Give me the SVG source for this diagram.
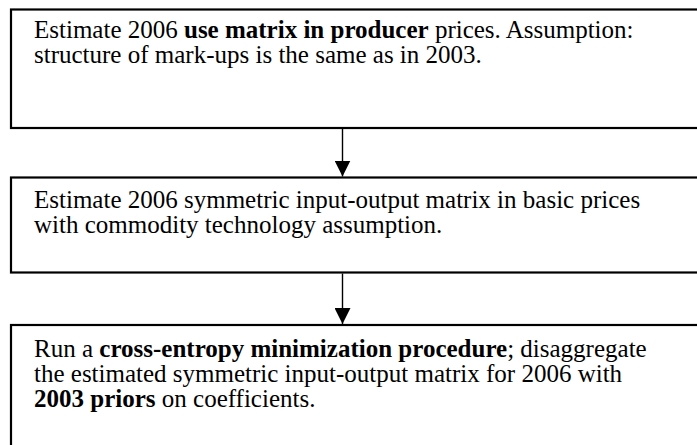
<svg xmlns="http://www.w3.org/2000/svg" width="697" height="445" viewBox="0 0 697 445">
<defs>
<style>
.box{fill:#fff;stroke:#000;stroke-width:2.2}
.t{font-family:'Liberation Serif','Times New Roman',serif;font-size:25px;fill:#000}
.b{font-weight:bold}
.c{stroke:#000;stroke-width:1.4;fill:none}
</style>
<marker id="ah" markerWidth="16" markerHeight="16" refX="16" refY="8" orient="auto" markerUnits="userSpaceOnUse">
<path d="M0,0 L16,8 L0,16 Z" fill="#000"/>
</marker>
</defs>
<rect width="697" height="445" fill="#fff"/>
<g id="node1">
<rect class="box" x="11" y="9.5" width="720" height="118.5"/>
<text class="t" x="34" y="38">Estimate 2006 <tspan class="b">use matrix in producer</tspan> prices. Assumption:</text>
<text class="t" x="34" y="63">structure of mark-ups is the same as in 2003.</text>
</g>
<g id="node2">
<rect class="box" x="11" y="177.5" width="720" height="95"/>
<text class="t" x="34" y="208">Estimate 2006 symmetric input-output matrix in basic prices</text>
<text class="t" x="34" y="233">with commodity technology assumption.</text>
</g>
<g id="node3">
<rect class="box" x="11" y="325" width="720" height="140"/>
<text class="t" x="34" y="357">Run a <tspan class="b">cross-entropy minimization procedure</tspan>; disaggregate</text>
<text class="t" x="34" y="382">the estimated symmetric input-output matrix for 2006 with</text>
<text class="t" x="34" y="407"><tspan class="b">2003 priors</tspan> on coefficients.</text>
</g>
<g id="connectors">
<line class="c" x1="342.5" y1="129" x2="342.5" y2="176.5" marker-end="url(#ah)"/>
<line class="c" x1="342.5" y1="273.5" x2="342.5" y2="324" marker-end="url(#ah)"/>
</g>
</svg>
